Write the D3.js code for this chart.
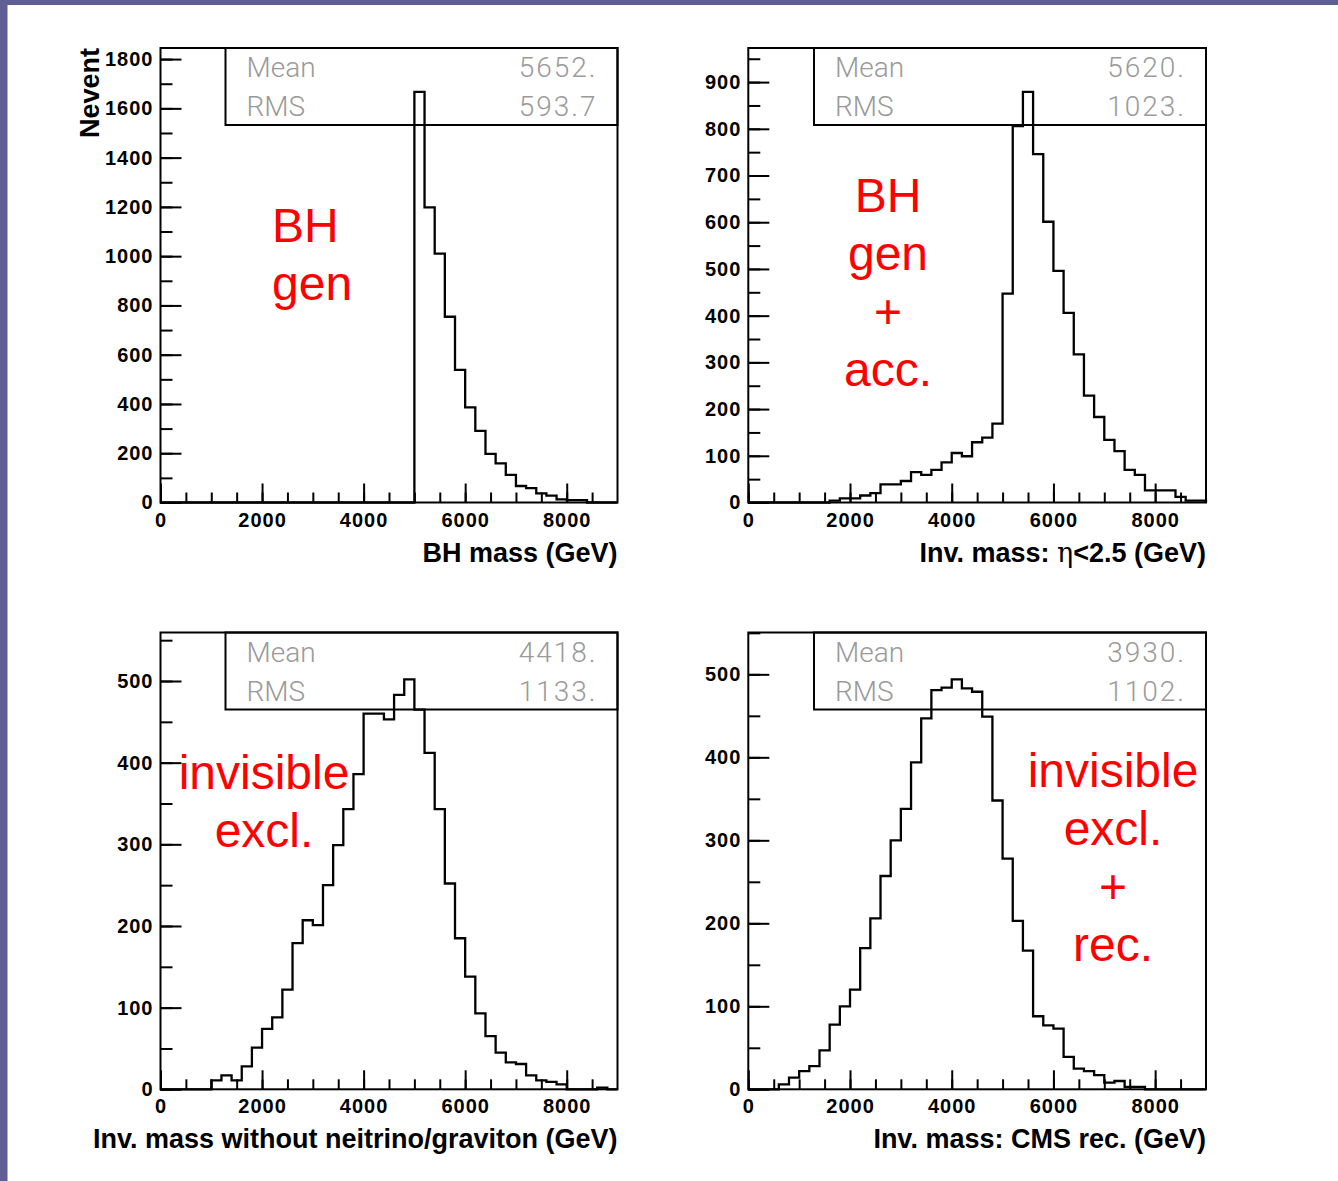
<!DOCTYPE html>
<html>
<head>
<meta charset="utf-8">
<script src="https://cdn.jsdelivr.net/npm/d3@7"></script>
<style>
  html, body { margin: 0; padding: 0; background: #fff; }
  svg { display: block; }
</style>
</head>
<body>
<svg id="chart" width="1338" height="1181"></svg>
<script>
// bins of 200 GeV from 0 to 9000 GeV
const binWidth = 200;
const massMax = 9000;
const xMajorTicks = [0, 2000, 4000, 6000, 8000];

const genCounts = [
  0, 0, 0, 0, 0, 0, 0, 0, 0, 0, 0, 0, 0, 0, 0, 0, 0, 0, 0, 0, 0, 0, 0, 0, 0,
  1667, 1198, 1010, 754, 538, 386, 291, 197, 159, 112, 67, 58, 37, 28, 13,
  10, 10, 0, 0, 0
];
const accCounts = [
  0, 0, 0, 0, 0, 0, 0, 0, 4, 9, 9, 15, 20, 39, 39, 46, 65, 59, 70, 86,
  106, 99, 129, 139, 169, 447, 806, 879, 746, 601, 496, 406, 317, 229, 183,
  134, 110, 70, 59, 26, 26, 26, 12, 4, 4
];
const invisCounts = [
  0, 0, 0, 0, 0, 11, 17, 11, 28, 51, 74, 88, 122, 179, 207, 201, 250, 299,
  343, 386, 460, 460, 453, 483, 502, 465, 412, 343, 252, 185, 138, 93, 65,
  45, 33, 31, 17, 11, 9, 6, 0, 0, 0, 2, 0
];
const recCounts = [
  0, 0, 0, 6, 14, 22, 28, 47, 78, 100, 120, 170, 206, 257, 300, 338, 394,
  447, 481, 484, 494, 483, 479, 449, 348, 278, 203, 167, 88, 77, 73, 39, 25,
  22, 17, 8, 10, 3, 3, 0, 0, 0, 0, 0, 0
];

const statMeans = ['5652.', '5620.', '4418.', '3930.'];
const statRms = ['593.7', '1023.', '1133.', '1102.'];

const genNote = ['BH', 'gen'];
const accNote = ['BH', 'gen', '+', 'acc.'];
const invisNote = ['invisible', 'excl.'];
const recNote = ['invisible', 'excl.', '+', 'rec.'];

const panels = [
  { counts: genCounts, yMax: 1845, yStep: 200, left: 160.5, top: 48, width: 457, height: 454.5,
    mean: statMeans[0], rms: statRms[0], note: genNote, noteX: 272, noteY: 242, noteAnchor: 'start',
    xTitle: ['BH mass (GeV)'], yTitle: 'Nevent' },
  { counts: accCounts, yMax: 973, yStep: 100, left: 748.3, top: 48, width: 457.7, height: 454.5,
    mean: statMeans[1], rms: statRms[1], note: accNote, noteX: 888, noteY: 212, noteAnchor: 'middle',
    xTitle: ['Inv. mass: ', 'η', '<2.5 (GeV)'] },
  { counts: invisCounts, yMax: 559.4, yStep: 100, left: 160.5, top: 632.5, width: 457, height: 456.8,
    mean: statMeans[2], rms: statRms[2], note: invisNote, noteX: 264, noteY: 789, noteAnchor: 'middle',
    xTitle: ['Inv. mass without neitrino/graviton (GeV)'] },
  { counts: recCounts, yMax: 550.4, yStep: 100, left: 748.3, top: 632.5, width: 457.7, height: 456.8,
    mean: statMeans[3], rms: statRms[3], note: recNote, noteX: 1113, noteY: 787, noteAnchor: 'middle',
    xTitle: ['Inv. mass: CMS rec. (GeV)'] }
];

const svg = d3.select('#chart');

// slide background edges
svg.append('rect').attr('x', 0).attr('y', 0).attr('width', 1338).attr('height', 5).attr('fill', '#5f5f96');
svg.append('rect').attr('x', 0).attr('y', 0).attr('width', 7.5).attr('height', 1181).attr('fill', '#5f5f96');

const tickFont = '"Liberation Sans", Arial, sans-serif';

function styleAxis(sel) {
  sel.select('.domain').remove();
  sel.selectAll('.tick line').attr('stroke', '#000').attr('stroke-width', 2);
  sel.selectAll('.tick text')
    .attr('fill', '#000')
    .style('font-family', tickFont)
    .style('font-weight', 'bold')
    .style('font-size', '20px')
    .style('letter-spacing', '1px');
}

function drawPanel(p) {
  const g = svg.append('g').attr('transform', 'translate(' + p.left + ',' + p.top + ')');

  const x = d3.scaleLinear().domain([0, massMax]).range([0, p.width]);
  const y = d3.scaleLinear().domain([0, p.yMax]).range([p.height, 0]);

  // minor ticks
  g.append('g')
    .attr('transform', 'translate(0,' + p.height + ')')
    .call(d3.axisBottom(x).tickValues(d3.range(0, massMax, 500)).tickSize(-10).tickFormat(''))
    .call(styleAxis);
  g.append('g')
    .call(d3.axisLeft(y).tickValues(d3.range(0, p.yMax, p.yStep / 2)).tickSize(-12).tickFormat(''))
    .call(styleAxis);

  // major ticks
  g.append('g')
    .attr('transform', 'translate(0,' + p.height + ')')
    .call(d3.axisBottom(x).tickValues(xMajorTicks).tickSize(-19).tickPadding(10).tickFormat(d3.format('d')))
    .call(styleAxis);
  g.append('g')
    .call(d3.axisLeft(y).tickValues(d3.range(0, p.yMax, p.yStep)).tickSize(-21).tickPadding(7).tickFormat(d3.format('d')))
    .call(styleAxis);

  // histogram outline
  const pts = [[0, 0]];
  p.counts.forEach((c, i) => pts.push([i * binWidth, c]));
  pts.push([massMax, p.counts[p.counts.length - 1]]);
  pts.push([massMax, 0]);

  const line = d3.line()
    .x(d => x(d[0]))
    .y(d => y(d[1]))
    .curve(d3.curveStepAfter);

  g.append('path')
    .datum(pts)
    .attr('d', line)
    .attr('fill', 'none')
    .attr('stroke', '#000')
    .attr('stroke-width', 2.3);

  // frame
  g.append('rect')
    .attr('width', p.width).attr('height', p.height)
    .attr('fill', 'none').attr('stroke', '#000').attr('stroke-width', 2);

  // stats box
  const boxX = p.width - 392;
  g.append('rect')
    .attr('x', boxX).attr('y', 0).attr('width', 392).attr('height', 77)
    .attr('fill', 'none').attr('stroke', '#000').attr('stroke-width', 2);

  const statStyle = t => t
    .attr('fill', '#9a9a9a')
    .style('font-family', 'Roboto, "DejaVu Sans", sans-serif')
    .style('font-weight', 300)
    .style('font-size', '28px');

  g.append('text').attr('x', boxX + 21).attr('y', 29).text('Mean').call(statStyle);
  g.append('text').attr('x', boxX + 21).attr('y', 68).text('RMS').call(statStyle);
  g.append('text').attr('x', p.width - 20).attr('y', 29).attr('text-anchor', 'end')
    .style('letter-spacing', '2px').text(p.mean).call(statStyle);
  g.append('text').attr('x', p.width - 20).attr('y', 68).attr('text-anchor', 'end')
    .style('letter-spacing', '2px').text(p.rms).call(statStyle);

  // x title
  const xt = g.append('text')
    .attr('x', p.width).attr('y', p.height + 59)
    .attr('text-anchor', 'end')
    .attr('fill', '#000')
    .style('font-family', tickFont)
    .style('font-weight', 'bold')
    .style('font-size', '27px');
  p.xTitle.forEach(s => {
    const ts = xt.append('tspan').text(s);
    if (s === 'η') ts.style('font-weight', 'normal').style('font-family', '"DejaVu Serif", serif');
  });

  if (p.yTitle) {
    g.append('text')
      .attr('transform', 'translate(-62,0) rotate(-90)')
      .attr('text-anchor', 'end')
      .attr('fill', '#000')
      .style('font-family', tickFont)
      .style('font-weight', 'bold')
      .style('font-size', '27px')
      .text(p.yTitle);
  }

  // red annotation
  p.note.forEach((s, i) => {
    svg.append('text')
      .attr('x', p.noteX)
      .attr('y', p.noteY + i * 58)
      .attr('text-anchor', p.noteAnchor)
      .attr('fill', '#ff0000')
      .style('font-family', tickFont)
      .style('font-size', '48px')
      .text(s);
  });
}

panels.forEach(drawPanel);
</script>
</body>
</html>
